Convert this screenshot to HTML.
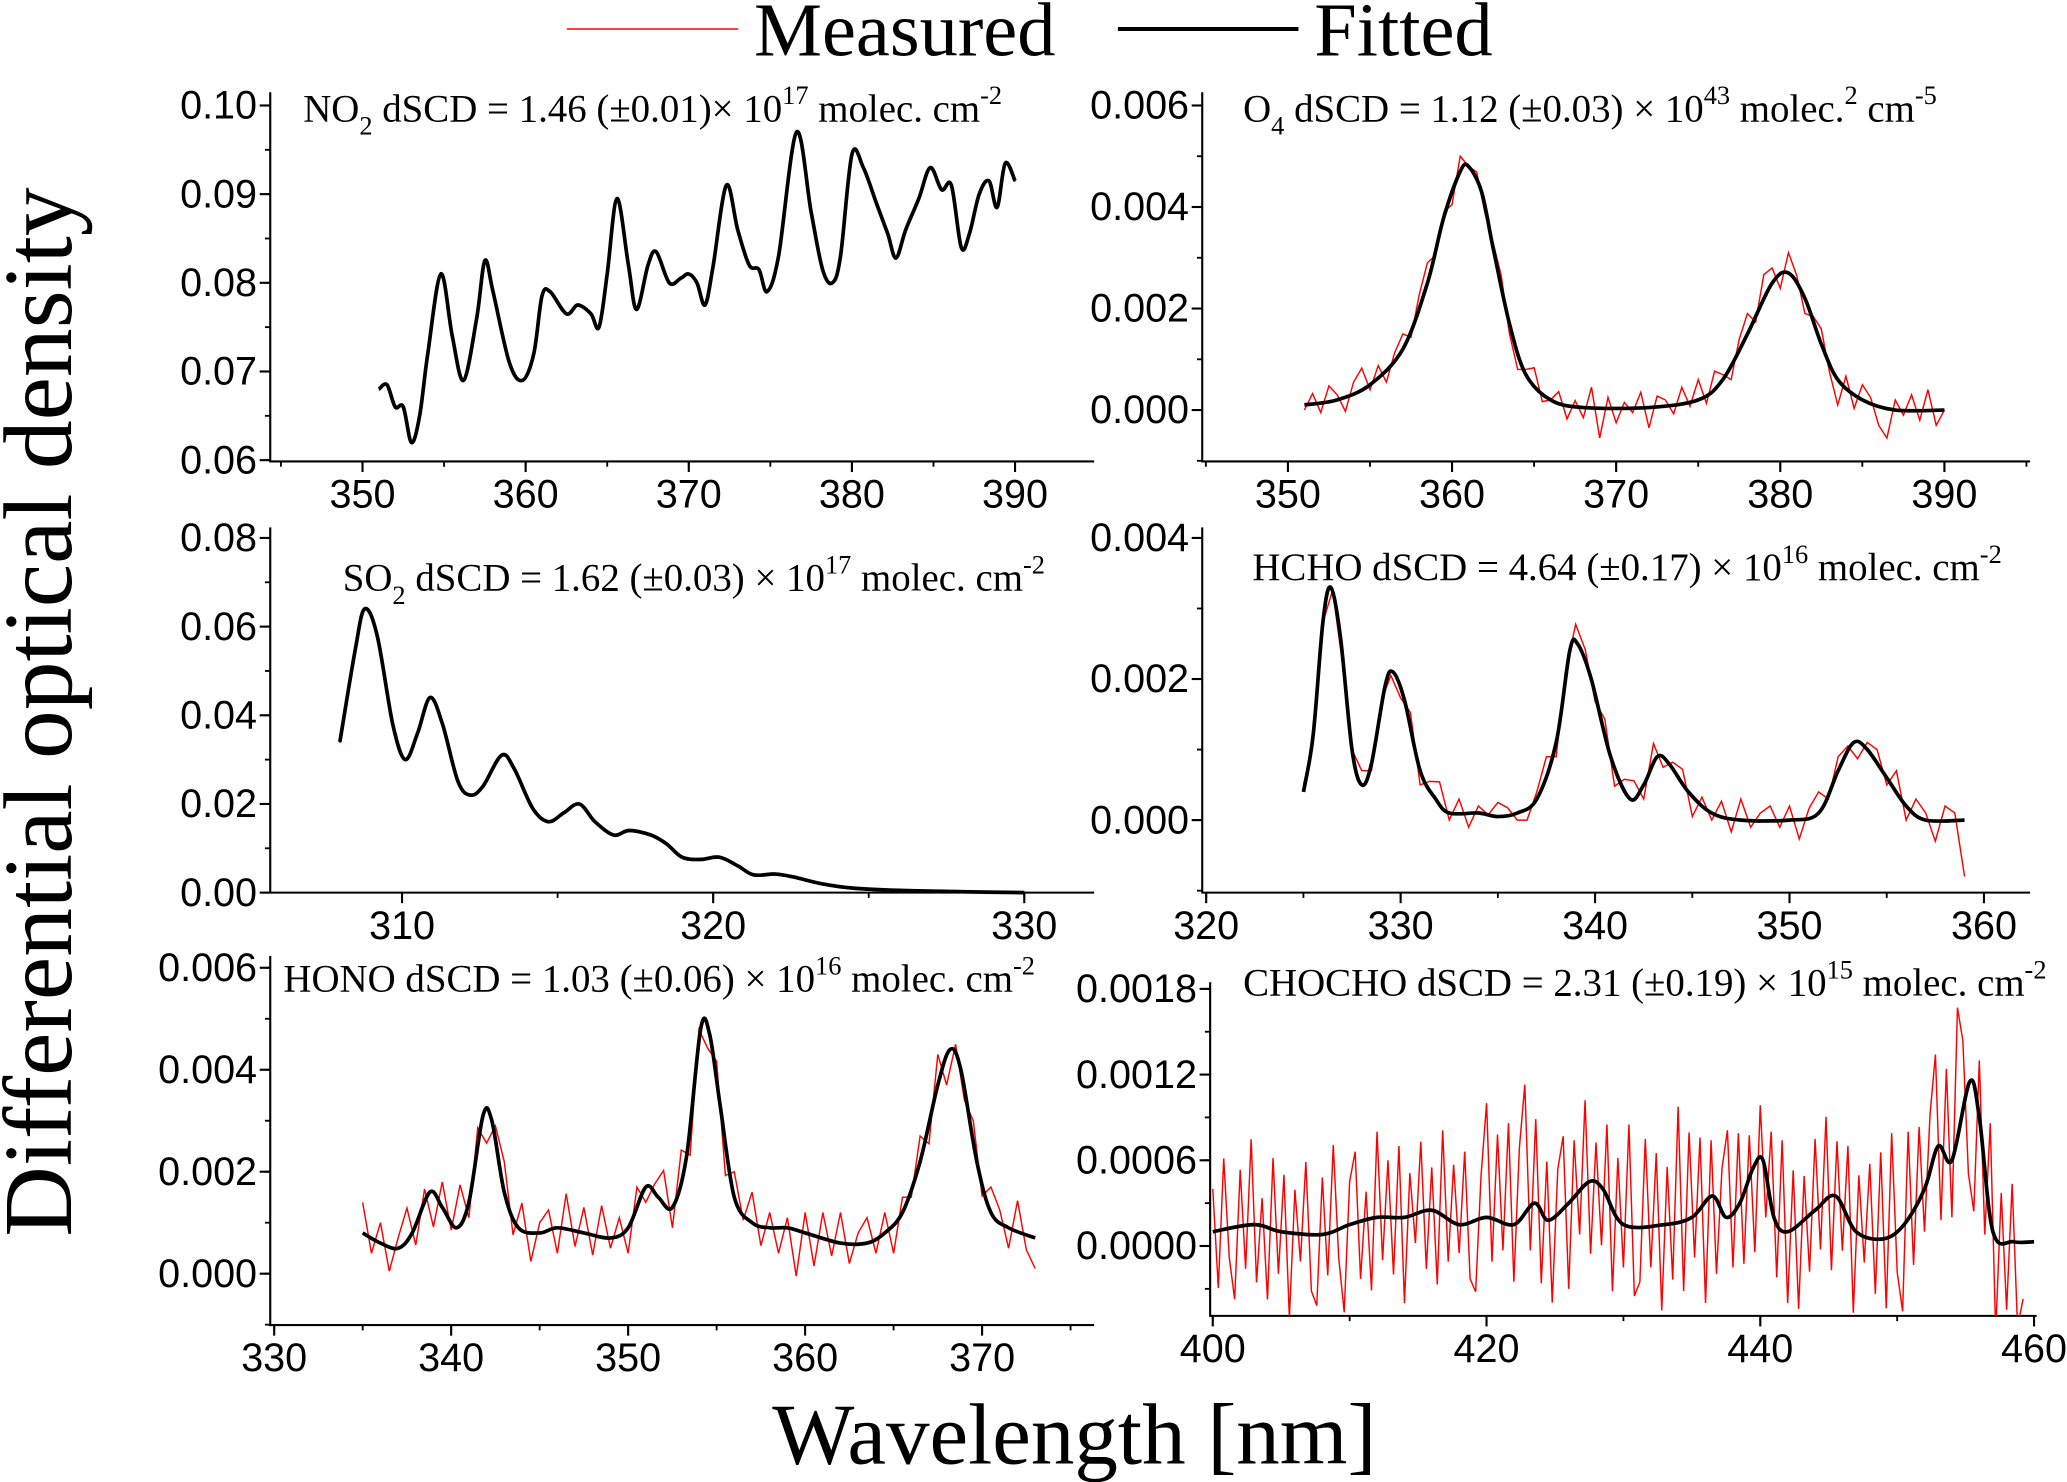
<!DOCTYPE html>
<html><head><meta charset="utf-8"><style>
html,body{margin:0;padding:0;background:#fff;}
svg{display:block;}
.tk{font-family:"Liberation Sans",sans-serif;font-size:30px;fill:#000;}
.an{font-family:"Liberation Serif",serif;font-size:29.5px;fill:#000;}
</style></head><body>
<svg id="chart" width="2067" height="1482" viewBox="0 0 1568 1124" preserveAspectRatio="none" xmlns="http://www.w3.org/2000/svg">
<g>
 <line x1="430" y1="22" x2="560" y2="22" stroke="#f00" stroke-width="1.2"/>
 <text x="572" y="42" font-family="Liberation Serif,serif" font-size="58">Measured</text>
 <line x1="848" y1="22" x2="985" y2="22" stroke="#000" stroke-width="3"/>
 <text x="997" y="42" font-family="Liberation Serif,serif" font-size="58">Fitted</text>
</g>
<text transform="translate(54,540) rotate(-90)" text-anchor="middle" font-family="Liberation Serif,serif" font-size="74">Differential optical density</text>
<text x="815" y="1110" text-anchor="middle" font-family="Liberation Serif,serif" font-size="66">Wavelength [nm]</text>
<g id="panels"></g>
</svg>
<script>
// ---- data (wavelength nm, optical density) ----
const no2X=[351,351.5,352,352.5,353,353.5,354,354.8,355.5,356.2,357,357.5,358,359,359.8,360.5,361,361.5,362.5,363.2,364,364.5,365,365.6,366.3,366.8,367.5,368,368.8,369.5,370,370.5,371,371.5,372.3,373,373.7,374.3,374.8,375.5,376.6,377.5,378.2,378.8,379.3,380,380.7,381.5,382.2,382.7,383.3,384.1,384.8,385.5,386.1,386.7,387.2,387.8,388.4,388.9,389.4,390];
const no2Y=[0.068,0.0685,0.066,0.066,0.062,0.065,0.072,0.081,0.074,0.069,0.076,0.0825,0.079,0.071,0.069,0.072,0.0785,0.079,0.0765,0.0775,0.0765,0.075,0.081,0.0895,0.082,0.077,0.082,0.0835,0.080,0.0805,0.081,0.080,0.0775,0.082,0.091,0.086,0.082,0.0815,0.079,0.083,0.097,0.088,0.0815,0.080,0.083,0.0945,0.093,0.089,0.0855,0.0828,0.086,0.0895,0.093,0.0905,0.091,0.084,0.0855,0.090,0.0915,0.0885,0.0935,0.0915];
const o4X=[351,353,355,357,358.5,359.5,360.5,361,361.8,362.5,363.5,364.5,366,368,372,375,376.5,378,379.5,380.5,381.5,382.5,383.5,385,387,390];
const o4Y=[0.0001,0.0002,0.0005,0.0012,0.0025,0.0038,0.0047,0.0048,0.0043,0.0032,0.0017,0.0007,0.0002,0.00005,0.00005,0.0002,0.0006,0.0015,0.0025,0.0027,0.0022,0.0013,0.0006,0.0002,0,0];
const o4Resid=[-1,2,-2,3,1,-3,2,4,-1,2,-3,1,3,-2,2,4,-1,1,-2,3,0,2,-1,1,2,-2,-4,1,3,-2,0,2,-3,1,-2,4,-6,2,-3,1,-1,3,-4,2,1,-2,3,-1,4,-2,3,1,-3,2,4,-1,5,3,-2,4,2,-3,1,3,-2,-5,2,-3,3,1,-4,-6,2,-1,3,-2,4,-3,0];
const so2X=[308,308.5,308.8,309.2,309.7,310.1,310.5,310.9,311.3,311.8,312.2,312.6,313.2,313.6,314.2,314.7,315.2,315.7,316.2,316.8,317.3,318,318.5,319,319.6,320.2,320.8,321.3,322,322.6,323.5,324.5,326,328,330];
const so2Y=[0.034,0.055,0.064,0.058,0.038,0.030,0.036,0.044,0.038,0.025,0.022,0.024,0.031,0.028,0.019,0.016,0.018,0.020,0.016,0.013,0.014,0.013,0.011,0.008,0.0075,0.008,0.006,0.004,0.0042,0.0035,0.002,0.001,0.0005,0.0002,0];
const hchoX=[325,325.5,326,326.4,326.9,327.5,328,328.5,329.2,329.6,330.2,331,331.8,332.5,334,335,336,337,338,338.7,339.1,339.8,340.8,341.8,342.5,343.2,343.8,344.8,346,347.5,350,351.5,352.5,353.3,354,355,356,357,359];
const hchoY=[0.0004,0.0012,0.0028,0.0033,0.0026,0.001,0.0005,0.0008,0.0019,0.0021,0.0017,0.0007,0.0003,0.0001,0.0001,0.00005,0.0001,0.0003,0.0011,0.0024,0.0025,0.002,0.0009,0.0003,0.0005,0.0009,0.0008,0.0004,0.0001,0,0,0.0001,0.0007,0.0011,0.001,0.0006,0.0002,0,0];
const hchoResid=[1,-1,0,1,-1,0,2,-1,1,0,-1,2,-2,1,3,-1,2,-2,1,0,2,1,-1,-2,1,2,-2,1,3,2,-1,2,-3,1,2,-2,3,-1,1,2,-3,1,-1,2,-2,3,-1,1,2,-1,2,-3,1,3,-1,2,1,-2,1,2,-1,3,-2,2,1,-3,2,1,-8];
const honoX=[335,336,337,337.8,338.8,339.5,340.3,341,341.8,342.3,343,343.8,345,346,347.5,349,350,351,351.7,352.5,353.3,354.1,354.6,355.2,356,357,358,359,360,362,363.5,364.5,365.5,366.5,367.5,368.2,368.8,369.7,370.5,371.5,373];
const honoY=[0.0008,0.0006,0.0005,0.0008,0.0016,0.0013,0.0009,0.0014,0.0031,0.0030,0.0016,0.0009,0.0008,0.0009,0.0008,0.0007,0.0009,0.0017,0.0015,0.0013,0.0023,0.0048,0.0047,0.0033,0.0015,0.0010,0.0009,0.0009,0.0008,0.0006,0.0006,0.0008,0.0012,0.0022,0.0037,0.0044,0.0040,0.0022,0.0012,0.0009,0.0007];
const honoResid=[6,-3,4,-5,2,6,-4,3,-6,5,-2,7,-3,4,-5,3,6,-4,5,-6,2,4,-5,7,-3,5,-4,6,-2,3,-5,4,-3,2,6,-4,5,-6,3,-3,4,-7,5,-2,6,-4,3,-5,2,-9,4,-6,5,-3,6,-4,2,5,-3,4,-6,3,-2,5,-4,6,-5,3,-2,4,-3,5,2,-4,6,-3,-6];
const chochoX=[400,403,405,408,410,412,414,416,418,420,422,423.5,424.5,426,427.5,428.5,430,433,435,436.5,437.5,438.5,439.5,440.2,441,442,444,445.5,447,449,450.5,452,453,454,455.3,456,457,458.5,460];
const chochoY=[0.0001,0.00015,0.0001,0.00008,0.00015,0.0002,0.0002,0.00025,0.00015,0.0002,0.00015,0.0003,0.00018,0.0003,0.00045,0.0004,0.00015,0.00015,0.0002,0.00035,0.0002,0.0003,0.00055,0.0006,0.0002,0.0001,0.00025,0.00035,0.0001,0.00005,0.00015,0.0004,0.0007,0.0006,0.00115,0.0009,0.0001,0.00003,0.00003];
const chochoResid=[3,-4,5,-2,-5,4,-3,6,-4,2,-5,5,-3,4,-6,3,-2,5,-4,-5,4,-3,6,-2,-6,3,5,-4,2,-5,6,-3,4,-4,5,-6,3,-2,5,-4,3,-5,6,-3,4,-2,5,-4,-5,3,8,-3,6,-2,7,-4,5,9,-3,6,-5,4,-6,3,5,-6,4,-3,6,-5,3,-4,5,-6,4,-3,7,-5,-4,6,-3,5,-6,4,-4,8,-5,6,-3,5,-7,4,-5,3,6,-4,5,-5,3,-6,4,-3,5,-4,6,-5,4,-6,3,-4,5,-3,6,-5,4,-3,5,-6,4,-2,5,-4,6,-5,7,-3,-6,6,-4,5,-3,4,7,-5,6,-4,9,5,-6,-8,4,-5,6,-7,3,-5,4,-6,-4];
// ---- tick arrays ----
const ticksY1=[0.06,0.07,0.08,0.09,0.10], ticksY2=[0,0.002,0.004,0.006], ticksY3=[0,0.02,0.04,0.06,0.08];
const ticksY4=[0,0.002,0.004], ticksY5=[0,0.002,0.004,0.006], ticksY6=[0,0.0006,0.0012,0.0018];
const ticksX1=[350,360,370,380,390], ticksX3=[310,320,330], ticksX4=[320,330,340,350,360], ticksX5=[330,340,350,360,370], ticksX6=[400,420,440,460];

const panels=[
 {n:'no2',L:205,R:830,T:70,B:350,x0:350,px0:275,x1:390,px1:770,y0:0.06,py0:349,y1:0.10,py1:80,fx:no2X,fy:no2Y,res:null,ms:351,mst:0.5,yt:ticksY1,yd:2,xt:ticksX1,xm:5,ym:0.005,
  ann:['NO','2',' dSCD = 1.46 (±0.01)× 10','17',' molec. cm','-2'],ax:230,ay:92},
 {n:'o4',L:912,R:1540,T:70,B:350,x0:350,px0:977,x1:390,px1:1475,y0:0,py0:311,y1:0.006,py1:80,fx:o4X,fy:o4Y,res:o4Resid,ms:351,mst:0.5,yt:ticksY2,yd:3,xt:ticksX1,xm:5,ym:0.001,
  ann:['O','4',' dSCD = 1.12 (±0.03) × 10','43',' molec.','2',' cm','-5'],ax:943,ay:92},
 {n:'so2',L:205,R:830,T:400,B:677,x0:310,px0:305,x1:330,px1:777,y0:0,py0:677,y1:0.08,py1:408,fx:so2X,fy:so2Y,res:null,ms:308,mst:0.5,yt:ticksY3,yd:2,xt:ticksX3,xm:5,ym:0.01,
  ann:['SO','2',' dSCD = 1.62 (±0.03) × 10','17',' molec. cm','-2'],ax:260,ay:448},
 {n:'hcho',L:912,R:1540,T:400,B:677,x0:320,px0:915,x1:360,px1:1505,y0:0,py0:622,y1:0.004,py1:408,fx:hchoX,fy:hchoY,res:hchoResid,ms:325,mst:0.5,yt:ticksY4,yd:3,xt:ticksX4,xm:5,ym:0.001,
  ann:['HCHO dSCD = 4.64 (±0.17) × 10','16',' molec. cm','-2'],ax:950,ay:440},
 {n:'hono',L:205,R:830,T:725,B:1005,x0:330,px0:208,x1:370,px1:745,y0:0,py0:966,y1:0.006,py1:734,fx:honoX,fy:honoY,res:honoResid,ms:335,mst:0.5,yt:ticksY5,yd:3,xt:ticksX5,xm:5,ym:0.001,
  ann:['HONO dSCD = 1.03 (±0.06) × 10','16',' molec. cm','-2'],ax:215,ay:752},
 {n:'chocho',L:918,R:1545,T:745,B:998,x0:400,px0:920,x1:460,px1:1543,y0:0,py0:945,y1:0.0018,py1:750,fx:chochoX,fy:chochoY,res:chochoResid,ms:400,mst:0.4,yt:ticksY6,yd:4,xt:ticksX6,xm:10,ym:0.0003,
  ann:['CHOCHO dSCD = 2.31 (±0.19) × 10','15',' molec. cm','-2'],ax:943,ay:755}
];
const NS='http://www.w3.org/2000/svg';
const root=document.getElementById('panels');
function mk(t,a,p){const e=document.createElementNS(NS,t);for(const k in a)e.setAttribute(k,a[k]);p.appendChild(e);return e;}
function interp(xs,ys,x){if(x<=xs[0])return ys[0];for(let i=1;i<xs.length;i++){if(x<=xs[i]){const t=(x-xs[i-1])/(xs[i]-xs[i-1]);return ys[i-1]+t*(ys[i]-ys[i-1]);}}return ys[ys.length-1];}
function smooth(pts){let d='M'+pts[0][0].toFixed(1)+','+pts[0][1].toFixed(1);for(let i=0;i<pts.length-1;i++){const p0=pts[Math.max(0,i-1)],p1=pts[i],p2=pts[i+1],p3=pts[Math.min(pts.length-1,i+2)];const c1=[p1[0]+(p2[0]-p0[0])/6,p1[1]+(p2[1]-p0[1])/6],c2=[p2[0]-(p3[0]-p1[0])/6,p2[1]-(p3[1]-p1[1])/6];d+=' C'+c1[0].toFixed(1)+','+c1[1].toFixed(1)+' '+c2[0].toFixed(1)+','+c2[1].toFixed(1)+' '+p2[0].toFixed(1)+','+p2[1].toFixed(1);}return d;}
panels.forEach(P=>{
 const xs=v=>P.px0+(v-P.x0)*(P.px1-P.px0)/(P.x1-P.x0);
 const ys=v=>P.py0+(v-P.y0)*(P.py1-P.py0)/(P.y1-P.y0);
 const g=mk('g',{},root);
 
 
 const cp=mk('clipPath',{id:'c'+P.n},g);mk('rect',{x:P.L,y:P.T-20,width:P.R-P.L,height:P.B-P.T+20},cp);
 const ax=mk('path',{d:`M${P.L},${P.T} L${P.L},${P.B} L${P.R},${P.B}`,fill:'none',stroke:'#000','stroke-width':1.6},g);
 
 
 const ymin=P.y0+(P.B-P.py0)*(P.y1-P.y0)/(P.py1-P.py0), ymax=P.y0+(P.T-P.py0)*(P.y1-P.y0)/(P.py1-P.py0);
 for(let v=Math.ceil(ymin/P.ym-1e-6)*P.ym; v<=ymax+1e-9; v+=P.ym){const y=ys(v);mk('line',{x1:P.L-4,x2:P.L,y1:y,y2:y,stroke:'#000','stroke-width':1.4},g);}
 P.yt.forEach(v=>{const y=ys(v);mk('line',{x1:P.L-8,x2:P.L,y1:y,y2:y,stroke:'#000','stroke-width':1.6},g);
  const t=mk('text',{x:P.L-10,y:y+10,'text-anchor':'end',class:'tk'},g);t.textContent=v.toFixed(P.yd);
  
  });
 const xmin=P.x0+(P.L-P.px0)*(P.x1-P.x0)/(P.px1-P.px0), xmax=P.x0+(P.R-P.px0)*(P.x1-P.x0)/(P.px1-P.px0);
 for(let v=Math.ceil(xmin/P.xm)*P.xm; v<=xmax; v+=P.xm){const x=xs(v);mk('line',{x1:x,x2:x,y1:P.B,y2:P.B+4,stroke:'#000','stroke-width':1.4},g);}
 P.xt.forEach(v=>{const x=xs(v);mk('line',{x1:x,x2:x,y1:P.B,y2:P.B+8,stroke:'#000','stroke-width':1.6},g);
  const t=mk('text',{x:x,y:P.B+35,'text-anchor':'middle',class:'tk'},g);t.textContent=String(v);
  
  });
 const mp=[];
 if(P.res){P.res.forEach((r,i)=>{const x=P.ms+i*P.mst;if(x>P.fx[P.fx.length-1]+0.01)return;mp.push([xs(x),ys(interp(P.fx,P.fy,x)+r*1e-4)]);});}
 else{P.fx.forEach((x,i)=>mp.push([xs(x),ys(P.fy[i])+0.8]));}
 const m=mk('path',{d:P.res?('M'+mp.map(p=>p[0].toFixed(1)+','+p[1].toFixed(1)).join(' L')):smooth(mp),fill:'none',stroke:'#f00','stroke-width':1.1,'clip-path':`url(#c${P.n})`},g);
 
 
 const fp=P.fx.map((x,i)=>[xs(x),ys(P.fy[i])]);
 const f=mk('path',{d:smooth(fp),fill:'none',stroke:'#000','stroke-width':2.8,'stroke-linejoin':'round'},g);
 
 
 const t=mk('text',{x:P.ax,y:P.ay,class:'an'},g);
 
 
 P.ann.forEach((s,i)=>{const ts=mk('tspan',{},t);ts.textContent=s;
  if(i%2===1){const sub=(P.ann[i-1]==='NO'||P.ann[i-1]==='O'||P.ann[i-1]==='SO');
   ts.setAttribute('font-size','20');ts.setAttribute('dy',sub?'10':'-13');}
  else if(i>0){const prevS=(P.ann[i-2]==='NO'||P.ann[i-2]==='O'||P.ann[i-2]==='SO');ts.setAttribute('dy',prevS?'-10':'13');}
 });
});
</script>
</body></html>
